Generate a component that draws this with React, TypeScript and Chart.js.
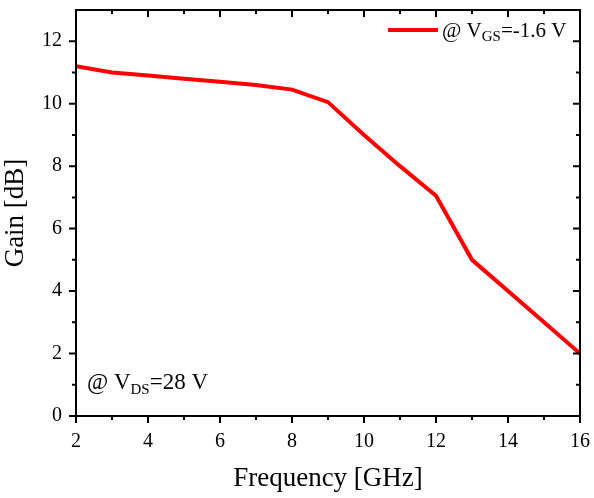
import { useEffect, useRef } from "react";
import { Chart, registerables } from "chart.js";

Chart.register(...registerables);

const freqs = [2, 3, 4, 5, 6, 7, 8, 9, 10, 11, 12, 13, 14, 15, 16];
const gain = [11.2, 11.0, 10.9, 10.8, 10.7, 10.6, 10.45, 10.05, 9.0, 8.0, 7.05, 5.0, 4.0, 3.0, 2.0];
const xTicks = [2, 4, 6, 8, 10, 12, 14, 16];
const yTicks = [0, 2, 4, 6, 8, 10, 12];
const xMinor = [3, 5, 7, 9, 11, 13, 15];
const yMinor = [1, 3, 5, 7, 9, 11];

const FONT = "'Liberation Serif', 'Times New Roman', serif";

// draws "pre" + subscript + "post"
const subText = (
  ctx: CanvasRenderingContext2D,
  x: number,
  y: number,
  pre: string,
  sub: string,
  post: string,
  size: number,
  subSize: number,
  shift: number
) => {
  ctx.font = `${size}px ${FONT}`;
  ctx.fillText(pre, x, y);
  x += ctx.measureText(pre).width;
  ctx.font = `${subSize}px ${FONT}`;
  ctx.fillText(sub, x, y + shift);
  x += ctx.measureText(sub).width;
  ctx.font = `${size}px ${FONT}`;
  ctx.fillText(post, x, y);
};

const framePlugin = {
  id: "frame",
  afterDatasetsDraw(chart: any) {
    const { ctx, chartArea: a, scales } = chart;
    const xs = scales.x;
    const ys = scales.y;
    ctx.save();
    ctx.strokeStyle = "#000";
    ctx.lineWidth = 2;
    ctx.strokeRect(a.left, a.top, a.right - a.left, a.bottom - a.top);

    const tick = (vals: number[], len: number) => {
      vals.forEach((v) => {
        const px = xs.getPixelForValue(v);
        ctx.beginPath();
        ctx.moveTo(px, a.bottom);
        ctx.lineTo(px, a.bottom + len);
        ctx.moveTo(px, a.top);
        ctx.lineTo(px, a.top + len);
        ctx.stroke();
      });
    };
    const ytick = (vals: number[], len: number) => {
      vals.forEach((v) => {
        const py = ys.getPixelForValue(v);
        ctx.beginPath();
        ctx.moveTo(a.left, py);
        ctx.lineTo(a.left - len, py);
        ctx.moveTo(a.right, py);
        ctx.lineTo(a.right - len, py);
        ctx.stroke();
      });
    };
    tick(xTicks, 7);
    tick(xMinor, 4);
    ytick(yTicks, 7);
    ytick(yMinor, 4);

    ctx.fillStyle = "#000";
    ctx.textBaseline = "alphabetic";
    ctx.textAlign = "left";
    subText(ctx, 87, 389, "@ V", "DS", "=28 V", 23, 15, 5);

    // legend
    const ds = chart.data.datasets[0];
    ctx.strokeStyle = ds.borderColor;
    ctx.lineWidth = ds.borderWidth;
    ctx.beginPath();
    ctx.moveTo(388, 30);
    ctx.lineTo(438, 30);
    ctx.stroke();
    subText(ctx, 442, 37, "@ V", "GS", "=-1.6 V", 21, 15, 4);

    // axis titles
    ctx.font = `27px ${FONT}`;
    ctx.textAlign = "center";
    ctx.fillText("Frequency [GHz]", (a.left + a.right) / 2, 486);
    ctx.translate(23, (a.top + a.bottom) / 2);
    ctx.rotate(-Math.PI / 2);
    ctx.fillText("Gain [dB]", 0, 0);
    ctx.restore();
  },
};

const App = () => {
  const chartRef: any = useRef(null);
  useEffect(() => {
    document.body.style.margin = "0";
    const ctx = chartRef.current.getContext("2d");
    const theChart = new Chart(ctx, {
      type: "line",
      data: {
        labels: freqs,
        datasets: [
          {
            label: "@ VGS=-1.6 V",
            data: freqs.map((f, i) => ({ x: f, y: gain[i] })),
            borderColor: "#ff0000",
            borderWidth: 4,
            pointRadius: 0,
            tension: 0,
            fill: false,
          },
        ],
      },
      options: {
        animation: false,
        responsive: true,
        maintainAspectRatio: false,
        layout: { padding: { top: 10, right: 14, left: 0, bottom: 0 } },
        plugins: { legend: { display: false }, tooltip: { enabled: false } },
        scales: {
          x: {
            type: "linear",
            min: 2,
            max: 16,
            grid: { display: false, drawTicks: false },
            border: { display: false },
            ticks: { color: "#000", font: { family: FONT, size: 20 }, padding: 14, maxRotation: 0 },
            afterBuildTicks: (s: any) => {
              s.ticks = xTicks.map((v) => ({ value: v }));
            },
            afterFit: (s: any) => {
              s.height = 82;
              s.paddingLeft = 0;
              s.paddingRight = 0;
            },
          },
          y: {
            min: 0,
            max: 13,
            grid: { display: false, drawTicks: false },
            border: { display: false },
            ticks: { color: "#000", font: { family: FONT, size: 20 }, padding: 14 },
            afterBuildTicks: (s: any) => {
              s.ticks = yTicks.map((v) => ({ value: v }));
            },
            afterFit: (s: any) => {
              s.width = 76;
              s.paddingTop = 0;
              s.paddingBottom = 0;
            },
          },
        },
      },
      plugins: [framePlugin],
    });
    return () => {
      theChart.destroy();
    };
  }, []);

  return (
    <div style={{ position: "absolute", left: 0, top: 0, width: 594, height: 498 }}>
      <canvas ref={chartRef} />
    </div>
  );
};

export default App;
